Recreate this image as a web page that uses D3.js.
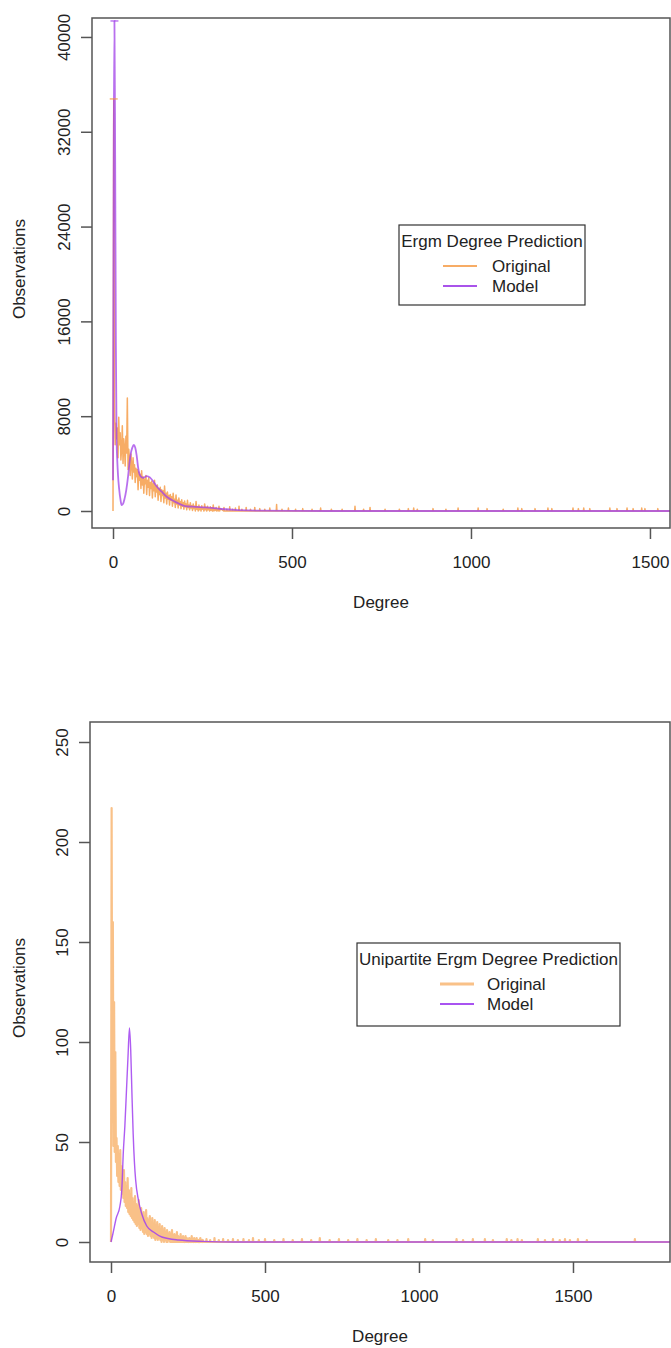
<!DOCTYPE html>
<html>
<head>
<meta charset="utf-8">
<script src="https://cdn.jsdelivr.net/npm/d3@7"></script>
<style>
  body { margin: 0; background: #fff; }
  svg text { font-family: "Liberation Sans", Arial, Helvetica, sans-serif; fill: #222; }
</style>
</head>
<body>
<div id="chart"></div>
<script>
// ---- data ----
// top panel: observed degree counts, one value every 2 degrees from 0 to 300
const topOrigStep = 2;
const topOrigValues = [
  0, 34770, 9000, 5600, 7400, 6100, 7000, 4500, 7900, 5600,
  6600, 4300, 5200, 7200, 4000, 6100, 5400, 3800, 6300, 4900,
  9540, 3500, 5200, 4400, 3000, 4800, 3900, 2700, 4500, 3300,
  3900, 2400, 3600, 2900, 3500, 1800, 3300, 2600, 3100, 1900,
  3400, 2200, 2900, 1500, 2700, 2300, 3000, 1400, 2600, 2000,
  2800, 1300, 2400, 1900, 2500, 1100, 2300, 1700, 2600, 1200,
  2100, 1600, 2200, 900, 1900, 1400, 2000, 800, 1800, 1300,
  1700, 700, 2100, 1100, 1500, 600, 1600, 1000, 1300, 500,
  1400, 900, 1200, 400, 1500, 700, 1000, 300, 1350, 600,
  900, 250, 1100, 500, 800, 200, 950, 400, 700, 150,
  850, 350, 600, 100, 900, 300, 500, 100, 700, 250,
  450, 50, 600, 200, 400, 0, 800, 150, 350, 0,
  500, 100, 300, 0, 450, 150, 250, 0, 600, 100,
  300, 0, 400, 100, 200, 0, 350, 50, 250, 0,
  500, 0, 200, 50, 300, 0, 150, 0, 400, 0, 200
];
// isolated small counts further out: [degree, count]
const topOrigTail = [
  [310, 300], [318, 150], [326, 350], [334, 150], [342, 250], [352, 400], [360, 150],
  [372, 300], [384, 150], [396, 300], [410, 200], [424, 150], [438, 250], [457, 550],
  [472, 150], [490, 250], [510, 150], [530, 200], [556, 150], [580, 250], [610, 150],
  [640, 150], [676, 400], [700, 150], [718, 300], [760, 150], [800, 150], [825, 200],
  [840, 250], [850, 150], [894, 200], [930, 150], [964, 250], [1020, 250], [1045, 200],
  [1090, 150], [1131, 250], [1142, 200], [1179, 200], [1215, 250], [1226, 200],
  [1285, 250], [1300, 200], [1315, 250], [1332, 200], [1388, 250], [1408, 200],
  [1436, 250], [1453, 200], [1477, 250], [1486, 200], [1522, 200]
];
const topMaxDegree = 1600;
// top panel: model prediction [degree, count]
const topModel = [
  [0, 2600], [2, 30000], [4, 41350], [6, 30000], [8, 14000], [10, 6000], [12, 4200],
  [14, 3000], [17, 1900], [21, 930], [24, 500], [28, 600], [32, 1000], [37, 1770],
  [42, 2900], [46, 4050], [50, 4900], [54, 5350], [58, 5570], [62, 5350], [66, 4700],
  [70, 3700], [74, 3100], [79, 2870], [85, 2800], [94, 2950], [103, 2840], [112, 2500],
  [120, 2150], [136, 1630], [150, 1200], [173, 790], [201, 420], [230, 350], [257, 310],
  [303, 170], [350, 80], [400, 30], [500, 5], [600, 0], [1600, 0]
];

// bottom panel: observed degree counts, one value every 2 degrees from 0 to 300
const botOrigStep = 2;
const botOrigValues = [
  0, 217, 60, 160, 48, 120, 45, 95, 40, 52,
  33, 48, 30, 44, 28, 46, 26, 38, 24, 34,
  22, 36, 20, 30, 18, 28, 17, 32, 15, 26,
  14, 24, 13, 27, 12, 22, 11, 20, 10, 23,
  9, 19, 8, 18, 9, 21, 7, 16, 6, 17,
  7, 14, 5, 15, 4, 13, 5, 16, 4, 12,
  3, 11, 4, 13, 3, 10, 2, 12, 3, 9,
  2, 11, 1, 8, 2, 10, 1, 7, 2, 9,
  1, 6, 0, 8, 1, 5, 0, 7, 1, 4,
  0, 6, 0, 4, 1, 5, 0, 3, 0, 6,
  0, 3, 0, 4, 0, 2, 0, 5, 0, 3,
  0, 2, 0, 4, 0, 2, 0, 3, 0, 1,
  0, 3, 0, 2, 0, 1, 0, 2, 0, 1,
  0, 3, 0, 1, 0, 2, 0, 1, 0, 2,
  0, 1, 0, 1, 0, 2, 0, 1, 0, 1, 0
];
const botOrigTail = [
  [310, 1.5], [322, 1], [336, 2], [350, 1], [364, 1.5], [380, 1], [396, 1.5], [412, 1],
  [430, 1.5], [448, 1], [461, 2], [480, 1], [500, 1.5], [530, 1], [560, 1.5], [590, 1],
  [620, 1.5], [650, 1], [678, 2], [710, 1], [740, 1.5], [770, 1], [800, 1.5], [830, 1],
  [860, 1.5], [900, 1], [930, 1], [965, 1.5], [1020, 1.5], [1045, 1], [1122, 1.5], [1143, 1],
  [1175, 1.5], [1214, 1.5], [1240, 1], [1285, 1.5], [1300, 1], [1320, 1.5], [1334, 1],
  [1386, 1.5], [1409, 1], [1435, 1.5], [1457, 1], [1474, 1.5], [1490, 1], [1516, 1.5],
  [1545, 1], [1701, 1.5]
];
const botMaxDegree = 1850;
const botModel = [
  [0, 0], [6, 4], [17, 12], [29, 18], [35, 26], [40, 45], [45, 58], [50, 75], [55, 92],
  [60, 107], [64, 96], [68, 74], [72, 54], [76, 40], [80, 31], [89, 21], [100, 14],
  [116, 8], [138, 5], [165, 2.5], [219, 1], [300, 0.3], [400, 0], [1850, 0]
];

const topYTicks = [0, 8000, 16000, 24000, 32000, 40000];
const botYTicks = [0, 50, 100, 150, 200, 250];
const xTicks = [0, 500, 1000, 1500];
const seriesNames = ['Original', 'Model'];

// ---- drawing ----
const W = 671, H = 1348;
const svg = d3.select('#chart').append('svg').attr('width', W).attr('height', H);
const AXIS = '#555';
const FONT = 17;

function buildOriginal(values, step, tail, maxDeg) {
  const pts = values.map((v, i) => [i * step, v]);
  tail.forEach(([d, v]) => { pts.push([d - 1, 0], [d, v], [d + 1, 0]); });
  pts.push([maxDeg, 0]);
  return pts;
}

function drawPanel(p) {
  const x = d3.scaleLinear().domain(p.xDomain).range([p.left, p.right]);
  const y = d3.scaleLinear().domain(p.yDomain).range([p.bottom, p.top]);
  const g = svg.append('g');

  const clipId = 'clip' + p.id;
  g.append('clipPath').attr('id', clipId).append('rect')
    .attr('x', p.left).attr('y', p.top).attr('width', p.right - p.left).attr('height', p.bottom - p.top);

  const line = d3.line().x(d => x(d[0])).y(d => y(d[1]));
  const plot = g.append('g').attr('clip-path', `url(#${clipId})`);

  plot.append('path').datum(p.orig)
    .attr('fill', 'none').attr('stroke', p.origColor).attr('stroke-width', p.origWidth)
    .attr('stroke-opacity', p.origOpacity).attr('stroke-linejoin', 'round')
    .attr('d', line);

  plot.append('path').datum(p.model)
    .attr('fill', 'none').attr('stroke', p.modelColor).attr('stroke-width', p.modelWidth)
    .attr('stroke-opacity', p.modelOpacity)
    .attr('d', line.curve(d3.curveMonotoneX));

  // little caps at the series peaks (top panel)
  if (p.caps) {
    [[p.orig, p.origColor], [p.model, p.modelColor]].forEach(([s, c]) => {
      const peak = s.reduce((a, b) => (b[1] > a[1] ? b : a));
      plot.append('line')
        .attr('x1', x(peak[0]) - 4).attr('x2', x(peak[0]) + 4)
        .attr('y1', y(peak[1])).attr('y2', y(peak[1]))
        .attr('stroke', c).attr('stroke-width', 1.3).attr('stroke-opacity', 0.8);
    });
  }

  // box
  g.append('rect')
    .attr('x', p.left).attr('y', p.top).attr('width', p.right - p.left).attr('height', p.bottom - p.top)
    .attr('fill', 'none').attr('stroke', AXIS).attr('stroke-width', 1.5);

  // y axis
  const ya = g.append('g').attr('transform', `translate(${p.left},0)`)
    .call(d3.axisLeft(y).tickValues(p.yTicks).tickSize(11).tickSizeOuter(0).tickFormat(d3.format('d')));
  ya.select('.domain').remove();
  ya.selectAll('.tick line').attr('stroke', AXIS).attr('stroke-width', 1.5);
  ya.selectAll('.tick text')
    .attr('transform', 'rotate(-90)').attr('x', 0).attr('y', -22).attr('dy', 0)
    .attr('text-anchor', 'middle').attr('font-size', FONT).attr('fill', '#222');

  // x axis
  const xa = g.append('g').attr('transform', `translate(0,${p.bottom})`)
    .call(d3.axisBottom(x).tickValues(xTicks).tickSize(11).tickSizeOuter(0).tickFormat(d3.format('d')));
  xa.select('.domain').remove();
  xa.selectAll('.tick line').attr('stroke', AXIS).attr('stroke-width', 1.5);
  xa.selectAll('.tick text').attr('y', 40).attr('dy', 0).attr('font-size', FONT).attr('fill', '#222');

  // axis titles
  g.append('text').attr('x', (p.left + p.right) / 2).attr('y', p.bottom + 80)
    .attr('text-anchor', 'middle').attr('font-size', FONT).text('Degree');
  g.append('text')
    .attr('transform', `translate(25,${(p.top + p.bottom) / 2 - 4}) rotate(-90)`)
    .attr('text-anchor', 'middle').attr('font-size', FONT).text('Observations');

  // legend
  const L = p.legend;
  g.append('rect').attr('x', L.x).attr('y', L.y).attr('width', L.w).attr('height', L.h)
    .attr('fill', '#fff').attr('stroke', '#333').attr('stroke-width', 1.2);
  g.append('text').attr('x', L.x + L.w / 2).attr('y', L.y + 22)
    .attr('text-anchor', 'middle').attr('font-size', FONT).text(L.title);
  const legColors = [[p.origColor, p.origWidth + (p.id === 'b' ? 0.8 : 0.5), p.origOpacity], [p.modelColor, 2.2, 0.9]];
  seriesNames.forEach((name, i) => {
    const ly = L.y + L.row0 + i * 20;
    g.append('line').attr('x1', L.lineX).attr('x2', L.lineX + 34).attr('y1', ly).attr('y2', ly)
      .attr('stroke', legColors[i][0]).attr('stroke-width', legColors[i][1]).attr('stroke-opacity', legColors[i][2]);
    g.append('text').attr('x', L.textX).attr('y', ly + 6).attr('font-size', FONT).text(name);
  });
}

drawPanel({
  id: 't', left: 92, right: 670, top: 18, bottom: 528,
  xDomain: [-58.7, 1556], yDomain: [-1435, 41600], yTicks: topYTicks,
  orig: buildOriginal(topOrigValues, topOrigStep, topOrigTail, topMaxDegree),
  model: topModel,
  origColor: '#F5973F', origWidth: 1.5, origOpacity: 0.8,
  modelColor: '#A040E8', modelWidth: 1.8, modelOpacity: 0.75,
  caps: true,
  legend: { x: 399, y: 225, w: 186, h: 80, title: 'Ergm Degree Prediction', row0: 41, lineX: 443, textX: 492 }
});

drawPanel({
  id: 'b', left: 90, right: 670, top: 722, bottom: 1262,
  xDomain: [-68.2, 1815], yDomain: [-10, 260], yTicks: botYTicks,
  orig: buildOriginal(botOrigValues, botOrigStep, botOrigTail, botMaxDegree),
  model: botModel,
  origColor: '#F7A656', origWidth: 2.2, origOpacity: 0.7,
  modelColor: '#A040F0', modelWidth: 1.4, modelOpacity: 0.85,
  caps: false,
  legend: { x: 357, y: 943, w: 263, h: 83, title: 'Unipartite Ergm Degree Prediction', row0: 41, lineX: 440, textX: 487 }
});
</script>
</body>
</html>
